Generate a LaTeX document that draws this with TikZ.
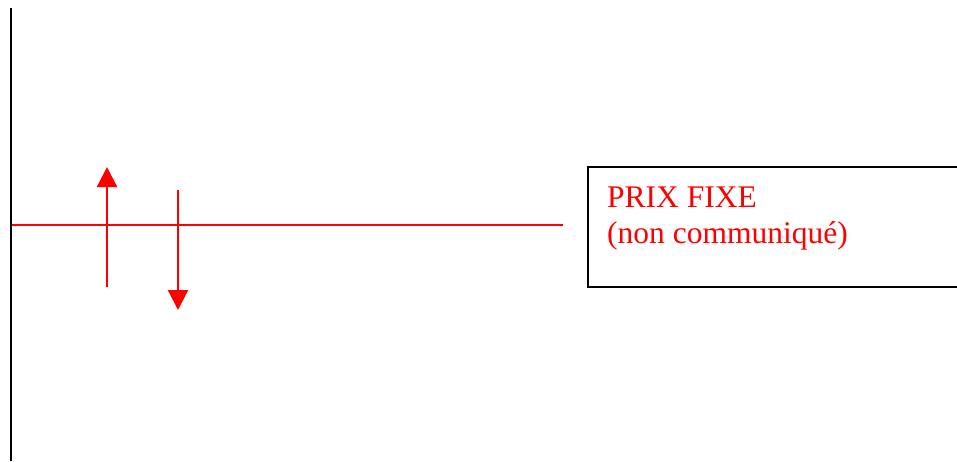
\documentclass[tikz,border=0pt]{standalone}
\usepackage{fontspec}
\setmainfont{Liberation Serif}
\usetikzlibrary{arrows.meta}
\definecolor{pred}{RGB}{255,0,0}
\tikzset{
  redline/.style={draw=pred, line width=1.8pt},
  redarrow/.style={draw=pred, line width=2.2pt, -{Triangle[width=20pt,length=20pt]}, color=pred},
  axisline/.style={draw=black, line width=2pt},
  labelbox/.style={draw=black, line width=2pt, rectangle, minimum width=380pt, minimum height=120pt, anchor=north west, inner sep=0pt}
}
\begin{document}
\begin{tikzpicture}[x=1pt,y=-1pt]
\useasboundingbox (0,0) rectangle (957,461);
\begin{scope}
\clip (0,0) rectangle (957,461);
\coordinate (axtop) at (11,8);
\coordinate (axbot) at (11,461);
\draw[axisline] (axtop) -- (axbot);
\coordinate (hl) at (12,225);
\coordinate (hr) at (563,225);
\draw[redline] (hl) -- (hr);
\coordinate (uA) at (107,287);
\coordinate (uB) at (107,167);
\draw[redarrow] (uA) -- (uB);
\coordinate (dA) at (178,190);
\coordinate (dB) at (178,310);
\draw[redarrow] (dA) -- (dB);
\node[labelbox] (box) at (587,166) {};
\node[anchor=base west, text=pred, font=\fontsize{31.5}{36}\selectfont, inner sep=0pt, align=left] (txt) at (607,207) {PRIX FIXE};
\node[anchor=base west, text=pred, font=\fontsize{31.5}{36}\selectfont, inner sep=0pt] (txt2) at (607,243) {(non communiqué)};
\end{scope}
\end{tikzpicture}
\end{document}
